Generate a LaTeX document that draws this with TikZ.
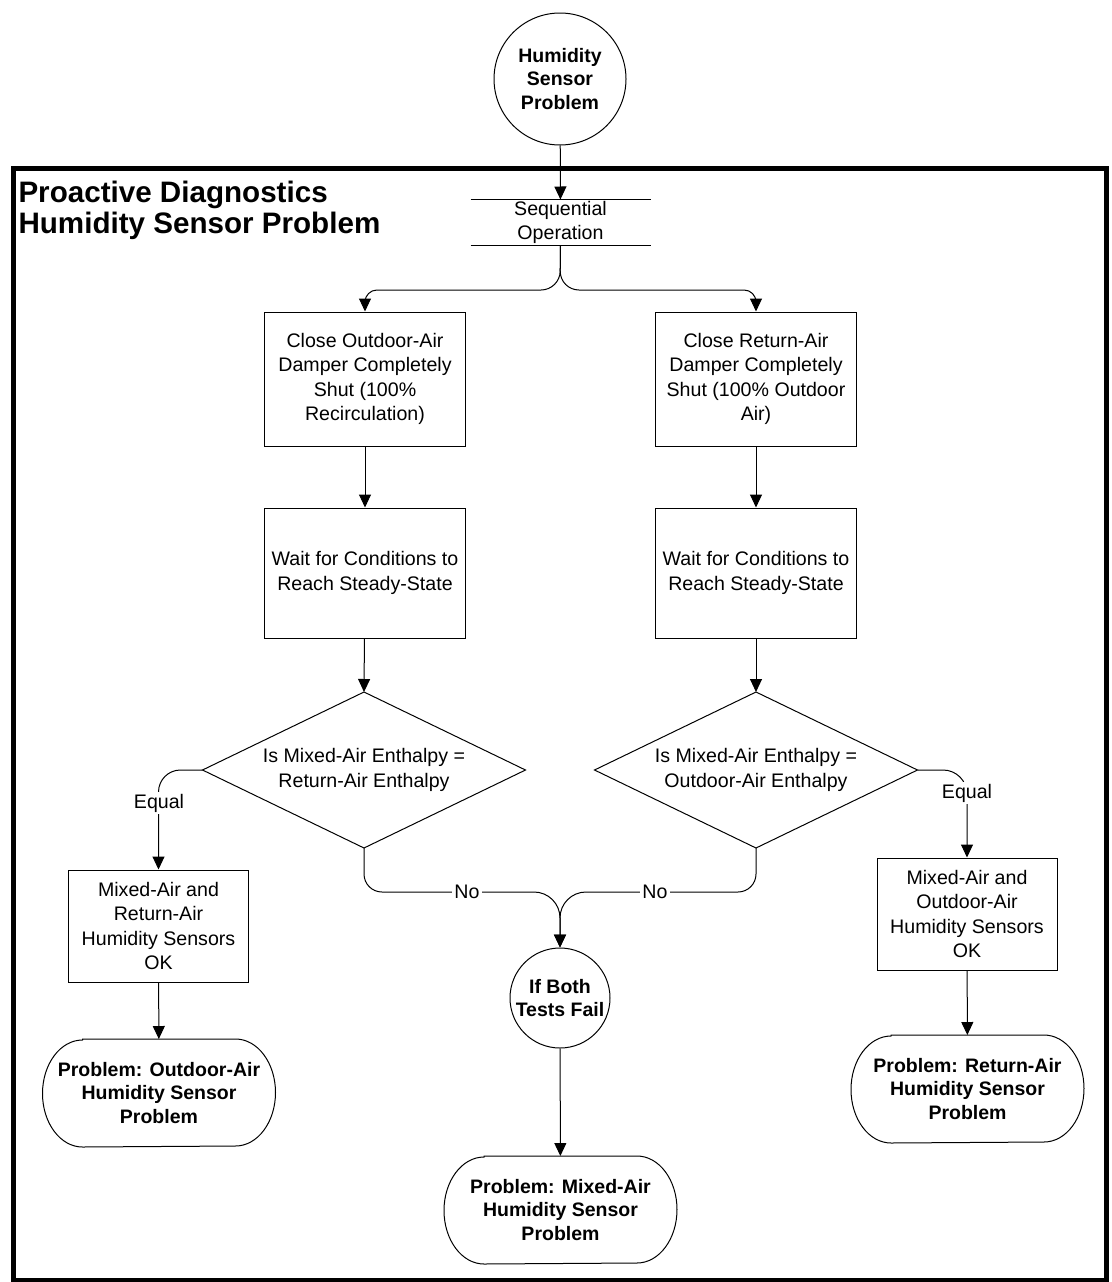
\documentclass[tikz,border=0pt]{standalone}
\usepackage{fontspec}
\setmainfont{Liberation Sans}
\usetikzlibrary{arrows.meta,shapes.geometric}

% outline of a terminator: flat top and bottom, half-ellipse ends
\newcommand\termline[1]{%
  \draw ([xshift=40pt]#1.north west) -- ([xshift=-40pt]#1.north east)
    arc[start angle=90, end angle=-90, x radius=40pt, y radius=53.5pt]
    -- ([xshift=40pt]#1.south west)
    arc[start angle=270, end angle=90, x radius=40pt, y radius=53.5pt] -- cycle;}

\begin{document}
\begin{tikzpicture}[x=1pt,y=-1pt,
  line width=1pt,
  every node/.style={inner sep=0pt, align=center},
  body/.style={font=\fontsize{19.6}{24.5}\selectfont},
  heavy/.style={font=\fontsize{19.5}{23.5}\selectfont\bfseries},
  stepbox/.style={draw, body, minimum width=201pt, minimum height=134pt},
  waitbox/.style={draw, body, minimum width=201pt, minimum height=130pt},
  okbox/.style={draw, body, minimum width=180pt, minimum height=112pt},
  decide/.style={body, minimum width=322pt, minimum height=155pt},
  event/.style={draw, circle, heavy},
  term/.style={heavy, minimum width=232pt, minimum height=107pt},
  tag/.style={body, fill=white, inner sep=2pt},
  arr/.style={-{Triangle[length=13pt,width=12pt]}},
]
\useasboundingbox (0,0) rectangle (1111,1282);
\fill[white] (0,0) rectangle (1111,1282);

% outer frame and title
\draw[line width=5pt] (13.5,168) rectangle (1106,1280);
\node[anchor=north west, align=left, font=\fontsize{29.6}{31.5}\selectfont\bfseries]
  (title) at (18,180.5) {Proactive Diagnostics\\Humidity Sensor Problem};

% start event
\node[event, minimum size=132pt] (start) at (560,79) {Humidity\\Sensor\\Problem};

% parallel bar
\node[body, minimum width=179pt, minimum height=45pt] (seq) at (560.5,222.5) {Sequential\\Operation};
\draw (seq.north west) -- (seq.north east);
\draw (seq.south west) -- (seq.south east);

% left branch
\node[stepbox] (b1) at (365,379) {Close Outdoor-Air\\Damper Completely\\Shut (100\%\\Recirculation)};
\node[waitbox] (w1) at (365,573) {Wait for Conditions to\\Reach Steady-State};
\node[decide] (d1) at (364,770) {Is Mixed-Air Enthalpy =\\Return-Air Enthalpy};
\draw (d1.north) -- (d1.east) -- (d1.south) -- (d1.west) -- cycle;
\node[okbox] (ok1) at (158.5,926) {Mixed-Air and\\Return-Air\\Humidity Sensors\\OK};
\node[term] (t1) at (159,1093) {Problem: Outdoor-Air\\Humidity Sensor\\Problem};
\termline{t1}

% right branch
\node[stepbox] (b2) at (756,379) {Close Return-Air\\Damper Completely\\Shut (100\% Outdoor\\Air)};
\node[waitbox] (w2) at (756,573) {Wait for Conditions to\\Reach Steady-State};
\node[decide] (d2) at (756,770) {Is Mixed-Air Enthalpy =\\Outdoor-Air Enthalpy};
\draw (d2.north) -- (d2.east) -- (d2.south) -- (d2.west) -- cycle;
\node[okbox] (ok2) at (967,914) {Mixed-Air and\\Outdoor-Air\\Humidity Sensors\\OK};
\node[term] (t3) at (967.5,1089) {Problem: Return-Air\\Humidity Sensor\\Problem};
\termline{t3}

% joint failure
\node[event, minimum size=100pt] (fail) at (560,998) {If Both\\Tests Fail};
\node[term] (t2) at (560.5,1210) {Problem: Mixed-Air\\Humidity Sensor\\Problem};
\termline{t2}

% connectors
\coordinate (split) at (560,290);
\coordinate (join) at (560,892);
\draw[arr] (start) -- (seq);
\draw[arr] (seq.south) [rounded corners=19pt] -- (split) [rounded corners=12pt] -- (b1.north |- split) [sharp corners] -- (b1.north);
\draw[arr] (seq.south) [rounded corners=19pt] -- (split) [rounded corners=12pt] -- (b2.north |- split) [sharp corners] -- (b2.north);
\draw[arr] (b1) -- (w1);
\draw[arr] (w1) -- (d1.north);
\draw[arr] (b2) -- (w2);
\draw[arr] (w2) -- (d2.north);

\draw[arr, rounded corners=22pt] (d1.west) -| (ok1.north);
\node[tag] (eq1) at (159,803) {Equal};
\draw[arr, rounded corners=24pt] (d2.east) -| (ok2.north);
\node[tag] (eq2) at (967,793) {Equal};

\draw[arr] (d1.south) [rounded corners=18pt] -- (d1.south |- join) [rounded corners=26pt] -- (join) [sharp corners] -- (fail.north);
\draw[arr] (d2.south) [rounded corners=18pt] -- (d2.south |- join) [rounded corners=26pt] -- (join) [sharp corners] -- (fail.north);
\node[tag] (no1) at (467,892) {No};
\node[tag] (no2) at (655,892) {No};

\draw[arr] (ok1) -- (t1);
\draw[arr] (ok2) -- (t3);
\draw[arr] (fail) -- (t2);
\end{tikzpicture}
\end{document}
